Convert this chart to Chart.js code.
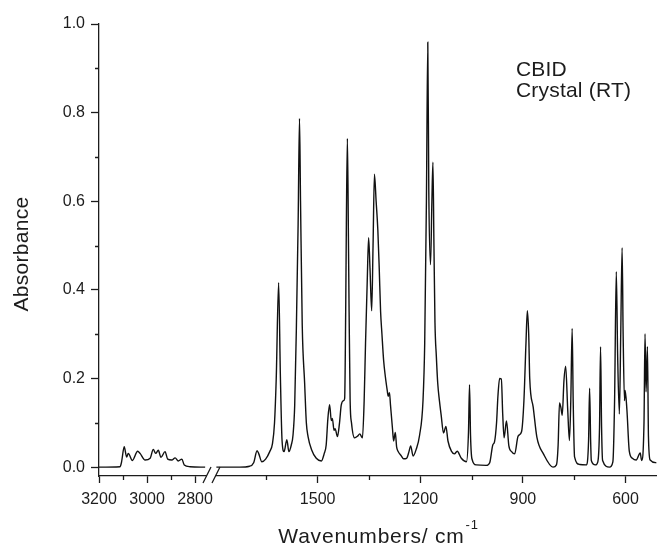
<!DOCTYPE html>
<html>
<head>
<meta charset="utf-8">
<title>CBID crystal IR spectrum</title>
<script src="https://cdn.jsdelivr.net/npm/chart.js@4.4.1/dist/chart.umd.min.js"></script>
<style>
  html, body { margin: 0; padding: 0; background: #fff; }
  #chart { display: block; }
</style>
</head>
<body>
<canvas id="chart" width="657" height="545"></canvas>
<script>
// C-H stretching region (left of the axis break)
const waveHigh = [3200, 3112, 3106, 3095, 3085, 3078, 3061, 3039, 3029, 3008, 2987, 2974, 2964,
    2953, 2942, 2925, 2914, 2897, 2883, 2870, 2855, 2845, 2821, 2758];
const absHigh = [0.0, 0.001, 0.012, 0.046, 0.023, 0.031, 0.015, 0.036, 0.031, 0.016, 0.02, 0.04, 0.031,
    0.038, 0.022, 0.035, 0.018, 0.016, 0.021, 0.014, 0.018, 0.005, 0.001, 0.0];

// fingerprint region (right of the axis break)
const waveLow = [1796, 1728, 1699, 1687, 1677, 1672, 1663, 1652, 1640, 1632, 1626, 1621, 1614, 1609, 1604,
    1598, 1590, 1584, 1577, 1572, 1567, 1562, 1557, 1553, 1550, 1545, 1538, 1533, 1528, 1518, 1504,
    1489, 1481, 1475, 1470, 1465, 1460, 1457, 1452, 1449, 1442, 1436, 1431, 1424, 1421, 1418, 1416,
    1413, 1410, 1408, 1405, 1401, 1392, 1383, 1377, 1369, 1364, 1360, 1355, 1351, 1347, 1342, 1338,
    1334, 1329, 1324, 1320, 1316, 1312, 1307, 1302, 1296, 1294, 1290, 1287, 1281, 1278, 1273, 1269,
    1265, 1255, 1249, 1240, 1233, 1228, 1221, 1212, 1202, 1192, 1187, 1182, 1178, 1175, 1170, 1166,
    1163, 1160, 1157, 1153, 1149, 1144, 1139, 1132, 1125, 1119, 1109, 1100, 1092, 1080, 1065, 1059,
    1056, 1053, 1049, 1036, 1007, 997, 988, 983, 977, 973, 968, 963, 959, 955, 948, 941, 933, 924,
    914, 904, 897, 891, 887, 883, 880, 870, 859, 840, 812, 802, 797, 793, 789, 785, 780, 775, 769,
    764, 760, 756, 753, 749, 734, 715, 708, 705, 702, 700, 688, 681, 676, 673, 670, 667, 647, 637,
    632, 627, 623, 618, 614, 610, 607, 603, 601, 596, 589, 580, 569, 557, 553, 546, 543, 540, 536,
    533, 528, 510];
const absLow = [0.0, 0.0, 0.002, 0.01, 0.037, 0.03, 0.012, 0.018, 0.035, 0.053, 0.1, 0.2, 0.416, 0.21, 0.06,
    0.035, 0.062, 0.035, 0.05, 0.072, 0.14, 0.32, 0.55, 0.787, 0.6, 0.32, 0.19, 0.1, 0.069, 0.04, 0.02,
    0.014, 0.03, 0.05, 0.11, 0.141, 0.105, 0.11, 0.083, 0.087, 0.069, 0.1, 0.14, 0.15, 0.155, 0.35, 0.55,
    0.742, 0.52, 0.35, 0.15, 0.1, 0.066, 0.07, 0.075, 0.066, 0.15, 0.279, 0.42, 0.518, 0.45, 0.353, 0.5,
    0.661, 0.6, 0.535, 0.45, 0.352, 0.3, 0.24, 0.204, 0.17, 0.16, 0.168, 0.14, 0.085, 0.059, 0.078, 0.045,
    0.036, 0.025, 0.019, 0.02, 0.035, 0.048, 0.025, 0.04, 0.072, 0.15, 0.28, 0.6, 0.959, 0.62, 0.457, 0.6,
    0.688, 0.5, 0.326, 0.25, 0.19, 0.15, 0.118, 0.077, 0.092, 0.059, 0.036, 0.03, 0.036, 0.02, 0.012, 0.08,
    0.186, 0.07, 0.019, 0.005, 0.004, 0.01, 0.05, 0.057, 0.1, 0.16, 0.2, 0.199, 0.12, 0.066, 0.104, 0.048, 0.035, 0.03,
    0.07, 0.08, 0.15, 0.28, 0.353, 0.3, 0.2, 0.136, 0.067, 0.03, 0.0, 0.005, 0.05, 0.145, 0.135, 0.117, 0.195, 0.228, 0.13,
    0.06, 0.15, 0.313, 0.15, 0.023, 0.006, 0.005, 0.06, 0.178, 0.06, 0.015, 0.005, 0.012, 0.09, 0.272, 0.09, 0.015, 0.0, 0.012,
    0.15, 0.441, 0.25, 0.12, 0.3, 0.495, 0.3, 0.15, 0.173, 0.13, 0.036, 0.02, 0.016, 0.032, 0.015, 0.1, 0.301, 0.17, 0.272,
    0.07, 0.016, 0.01];

const ticksHigh = [3200, 3100, 3000, 2900, 2800];
const ticksLow = [1650, 1500, 1350, 1200, 1050, 900, 750, 600];
const labelsX = [3200, 3000, 2800, 1500, 1200, 900, 600];
const ticksY = [0, 0.1, 0.2, 0.3, 0.4, 0.5, 0.6, 0.7, 0.8, 0.9, 1.0];
const labelsY = [0, 0.2, 0.4, 0.6, 0.8, 1.0];

const titleX = 'Wavenumbers/ cm';
const titleXSup = '-1';
const titleY = 'Absorbance';
const sampleLines = ['CBID', 'Crystal (RT)'];

const ink = '#1c1c1c';
const fontFamily = '"Liberation Sans", Arial, Helvetica, sans-serif';
Chart.defaults.font.family = fontFamily;
Chart.defaults.color = ink;

function toPoints(xs, ys) {
    return xs.map((x, i) => ({ x: x, y: ys[i] }));
}

function isMajorX(v) { return labelsX.includes(v); }
function isMajorY(v) { return labelsY.includes(v); }

function xAxis(ticks, weight, min, max) {
    return {
        type: 'linear',
        position: 'bottom',
        stack: 'wavenumber',
        stackWeight: weight,
        reverse: true,
        min: min,
        max: max,
        afterBuildTicks: scale => { scale.ticks = ticks.map(v => ({ value: v })); },
        afterFit: scale => {
            scale.height = 69;
            scale.paddingLeft = 0;
            scale.paddingRight = 0;
        },
        border: { display: true, color: ink, width: 1.3 },
        grid: {
            drawOnChartArea: false,
            tickLength: 7,
            tickWidth: 1.3,
            tickColor: ctx => (ctx.tick && isMajorX(ctx.tick.value)) ? ink : 'rgba(0,0,0,0)'
        },
        ticks: {
            padding: 7,
            maxRotation: 0,
            autoSkip: false,
            font: { size: 16 },
            color: ink,
            callback: v => isMajorX(v) ? String(v) : ''
        }
    };
}

// short minor ticks, axis break and free text
const decorations = {
    id: 'decorations',
    afterDraw(chart) {
        const ctx = chart.ctx;
        const area = chart.chartArea;
        const xL = chart.scales.xL;
        const xR = chart.scales.xR;
        const y = chart.scales.y;
        ctx.save();
        ctx.strokeStyle = ink;
        ctx.lineWidth = 1.3;

        // minor ticks
        ctx.beginPath();
        [[xL, ticksHigh], [xR, ticksLow]].forEach(([scale, ticks]) => {
            ticks.filter(v => !isMajorX(v)).forEach(v => {
                const px = Math.round(scale.getPixelForValue(v)) + 0.5;
                ctx.moveTo(px, area.bottom);
                ctx.lineTo(px, area.bottom + 4);
            });
        });
        ticksY.filter(v => !isMajorY(v)).forEach(v => {
            const py = Math.round(y.getPixelForValue(v)) + 0.5;
            ctx.moveTo(area.left - 4, py);
            ctx.lineTo(area.left, py);
        });
        ctx.stroke();

        // axis break
        const bx = xL.right;
        ctx.fillStyle = '#fff';
        ctx.fillRect(bx - 8, area.bottom - 3, 8.5, 6);
        ctx.beginPath();
        ctx.moveTo(bx - 12, area.bottom + 7);
        ctx.lineTo(bx - 4, area.bottom - 9);
        ctx.moveTo(bx - 3, area.bottom + 7);
        ctx.lineTo(bx + 5, area.bottom - 9);
        ctx.stroke();

        // sample label
        ctx.fillStyle = ink;
        ctx.textAlign = 'left';
        ctx.textBaseline = 'alphabetic';
        ctx.font = '21px ' + fontFamily;
        ctx.letterSpacing = '0.2px';
        sampleLines.forEach((t, i) => ctx.fillText(t, 516, 76 + i * 21));

        // x title with superscript
        ctx.letterSpacing = '0.8px';
        ctx.font = '21px ' + fontFamily;
        const w1 = ctx.measureText(titleX).width;
        ctx.font = '13px ' + fontFamily;
        const w2 = ctx.measureText(titleXSup).width;
        const cx = (area.left + area.right) / 2;
        const start = cx - (w1 + w2) / 2;
        ctx.font = '21px ' + fontFamily;
        ctx.fillText(titleX, start, 543);
        ctx.font = '13px ' + fontFamily;
        ctx.fillText(titleXSup, start + w1 + 1, 529);

        // y title
        ctx.letterSpacing = '0.3px';
        ctx.translate(22, (area.top + area.bottom) / 2 + 4);
        ctx.rotate(-Math.PI / 2);
        ctx.textAlign = 'center';
        ctx.textBaseline = 'middle';
        ctx.font = '21px ' + fontFamily;
        ctx.fillText(titleY, 0, 0);
        ctx.restore();
    }
};

new Chart(document.getElementById('chart'), {
    type: 'line',
    data: {
        datasets: [
            { data: toPoints(waveHigh, absHigh), xAxisID: 'xL', yAxisID: 'y' },
            { data: toPoints(waveLow, absLow), xAxisID: 'xR', yAxisID: 'y' }
        ]
    },
    options: {
        responsive: false,
        animation: false,
        layout: { padding: { top: 24, right: 0, bottom: 0, left: 0 } },
        plugins: { legend: { display: false }, tooltip: { enabled: false } },
        elements: {
            point: { radius: 0 },
            line: { borderColor: '#111', borderWidth: 1.4, cubicInterpolationMode: 'monotone' }
        },
        scales: {
            xL: xAxis(ticksHigh, 116, 2717, 3200),
            xR: xAxis(ticksLow, 442, 508, 1800),
            y: {
                type: 'linear',
                position: 'left',
                min: -0.02,
                max: 1.0,
                afterBuildTicks: scale => { scale.ticks = ticksY.map(v => ({ value: v })); },
                afterFit: scale => {
                    scale.width = 99;
                    scale.paddingTop = 0;
                    scale.paddingBottom = 0;
                },
                border: { display: true, color: ink, width: 1.3 },
                grid: {
                    drawOnChartArea: false,
                    tickLength: 8,
                    tickWidth: 1.3,
                    tickColor: ctx => (ctx.tick && isMajorY(ctx.tick.value)) ? ink : 'rgba(0,0,0,0)'
                },
                ticks: {
                    padding: 6,
                    font: { size: 16 },
                    color: ink,
                    callback: v => isMajorY(v) ? v.toFixed(1) : ''
                }
            }
        }
    },
    plugins: [decorations]
});
</script>
</body>
</html>
